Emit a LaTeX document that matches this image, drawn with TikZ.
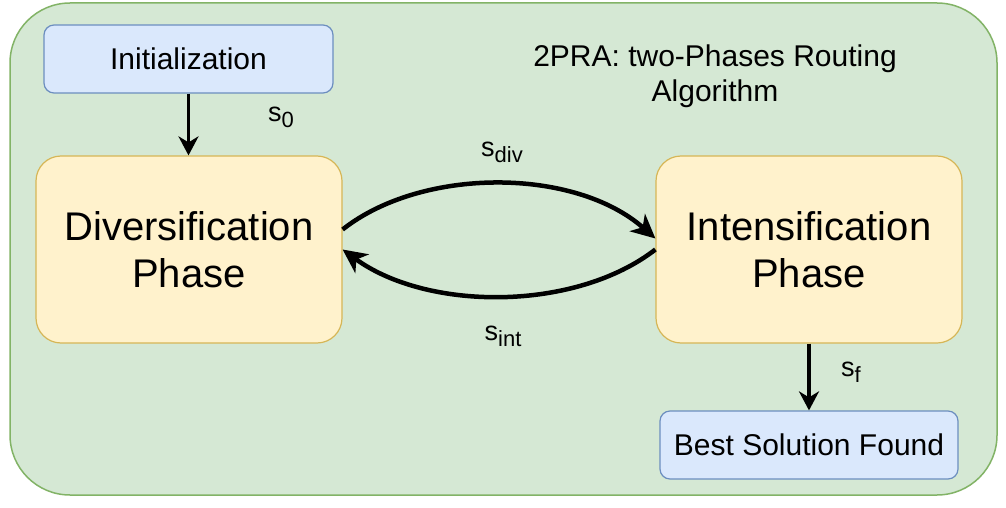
\documentclass[tikz,border=0pt]{standalone}
\usepackage{fontspec}
\setmainfont{Liberation Sans}
\usetikzlibrary{arrows.meta,calc}
\definecolor{gfill}{HTML}{D5E8D4}
\definecolor{gline}{HTML}{82B366}
\definecolor{bfill}{HTML}{DAE8FC}
\definecolor{bline}{HTML}{6C8EBF}
\definecolor{yfill}{HTML}{FFF2CC}
\definecolor{yline}{HTML}{D6B656}
\newcommand\sublbl[1]{s\raisebox{-6pt}{\fontsize{22}{22}\selectfont #1}}
\begin{document}
\begin{tikzpicture}[x=1pt,y=-1pt,
  frame/.style={draw=gline,fill=gfill,line width=1.5pt,rounded corners=60pt,minimum width=987pt,minimum height=492pt,inner sep=0pt},
  smallbox/.style={draw=bline,fill=bfill,line width=1.2pt,rounded corners=10pt,inner sep=0pt,font=\fontsize{30}{35}\selectfont},
  phase/.style={draw=yline,fill=yfill,line width=1.2pt,rounded corners=25pt,minimum width=306pt,minimum height=187pt,inner sep=0pt,align=center,font=\fontsize{40}{47}\selectfont},
  title/.style={align=center,font=\fontsize{30}{35}\selectfont,inner sep=0pt},
  lbl/.style={font=\fontsize{27}{27}\selectfont,inner sep=0pt},
  varrow/.style={line width=3.5pt,-{Stealth[length=19pt,width=20pt,inset=6pt]}},
  carrow/.style={line width=4.5pt,-{Stealth[length=24pt,width=23pt,inset=7pt]}}
]
\useasboundingbox (0,0) rectangle (1006,508);
\node[frame] (frame) at (503.5,249) {};
\node[smallbox,minimum width=289pt,minimum height=68pt] (init) at (188.5,59) {Initialization};
\node[phase] (div) at (189,249.5) {Diversification\\Phase};
\node[phase] (int) at (809,249.5) {Intensification\\Phase};
\node[smallbox,minimum width=298pt,minimum height=68pt] (best) at (809,445) {Best Solution Found};
\node[title] (ttl) at (715,76) {2PRA: two-Phases Routing\\Algorithm};
\node[lbl] (l0) at (281,117) {\sublbl{0}};
\node[lbl] (ldiv) at (502,152) {\sublbl{div}};
\node[lbl] (lint) at (503,336) {\sublbl{int}};
\node[lbl] (lf) at (851,372) {\sublbl{f}};
\draw[varrow] (init.south) -- (init.south |- div.north);
\draw[varrow] (int.south) -- (int.south |- best.north);
\draw[carrow] ($(div.east)+(0,-20)$) .. controls +(79,-62.5) and +(-81,-71.5) .. ($(int.west)+(0,-11)$);
\draw[carrow] (int.west) .. controls +(-80,62) and +(85,62) .. (div.east);
\end{tikzpicture}
\end{document}
